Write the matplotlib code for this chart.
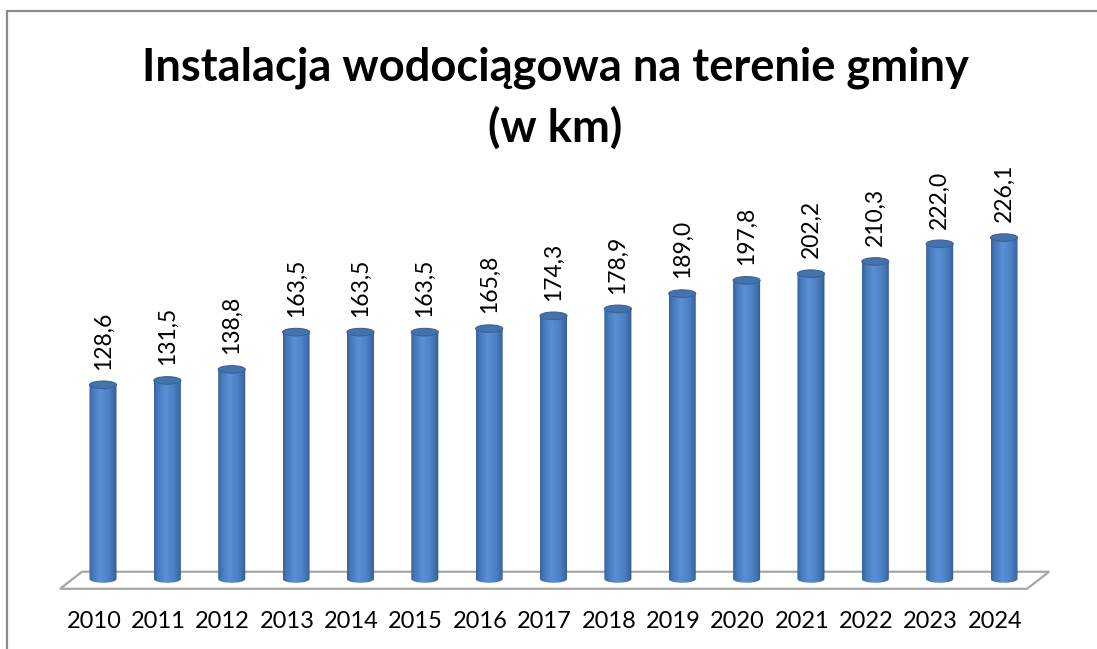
import numpy as np
import matplotlib
matplotlib.use("Agg")
import matplotlib.pyplot as plt
from matplotlib.patches import Polygon, Ellipse, PathPatch, Rectangle
from matplotlib.path import Path
from matplotlib.colors import LinearSegmentedColormap
from matplotlib.transforms import ScaledTranslation

years = ['2010', '2011', '2012', '2013', '2014', '2015', '2016', '2017',
         '2018', '2019', '2020', '2021', '2022', '2023', '2024']
values = [128.6, 131.5, 138.8, 163.5, 163.5, 163.5, 165.8, 174.3,
          178.9, 189.0, 197.8, 202.2, 210.3, 222.0, 226.1]
value_labels = [f"{v:.1f}".replace('.', ',') for v in values]
title_line1 = 'Instalacja wodociągowa na terenie gminy'
title_line2 = '(w km)'

plt.rcParams['font.family'] = ['Lato', 'DejaVu Sans']

W, H = 1097, 649
fig = plt.figure(figsize=(W / 100, H / 100), dpi=100)
fig.patch.set_facecolor('white')

ax = fig.add_axes([0.03522, 0.0846, 0.9387, 0.6049])
ax.set_facecolor('none')
for s in ax.spines.values():
    s.set_visible(False)

n = len(values)
xs = np.arange(n)
bw = 0.42      # cylinder width in category units
eh = 5.0       # ellipse height in value units

# floor (3D base)
floor = Polygon([(-0.668, -6.5), (14.357, -6.5), (14.70, 4.8), (-0.326, 4.8)],
                closed=True, facecolor='white', edgecolor='#a6a6a6', lw=1.6, zorder=1)
ax.add_patch(floor)

cmap = LinearSegmentedColormap.from_list(
    'cyl', [(0.0, '#35629a'), (0.12, '#4577b8'), (0.4, '#5a8fd6'),
            (0.7, '#4e82c6'), (0.9, '#3e6ba7'), (1.0, '#30578a')])
grad = np.linspace(0, 1, 256).reshape(1, -1)

t = np.linspace(np.pi, 2 * np.pi, 60)
for x, v, lab in zip(xs, values, value_labels):
    left, right = x - bw / 2, x + bw / 2
    arc_x = x + (bw / 2) * np.cos(t)
    arc_y = (eh / 2) * np.sin(t)
    verts = [(left, v)] + list(zip(arc_x, arc_y)) + [(right, v), (left, v)]
    codes = [Path.MOVETO] + [Path.LINETO] * (len(verts) - 2) + [Path.CLOSEPOLY]
    body = PathPatch(Path(verts, codes), facecolor='none', edgecolor='none', zorder=2)
    ax.add_patch(body)
    im = ax.imshow(grad, extent=(left, right, -eh / 2, v), aspect='auto',
                   cmap=cmap, zorder=2, interpolation='bicubic')
    im.set_clip_path(body)
    top = Ellipse((x, v), bw, eh, facecolor='#4472ab', edgecolor='#3a6297',
                  lw=0.8, zorder=3)
    ax.add_patch(top)
    ax.annotate(lab, (x, v), xytext=(0, 11), textcoords='offset points',
                rotation=90, ha='center', va='bottom', fontsize=16.5, color='black')

ax.set_xlim(-1, 15)
ax.set_ylim(-10, 250)
ax.set_xticks(xs, years)
ax.set_yticks([])
ax.tick_params(axis='x', length=0, pad=12, labelsize=17)
shift = ScaledTranslation(-9 / 100, 0, fig.dpi_scale_trans)
for tl in ax.get_xticklabels():
    tl.set_transform(tl.get_transform() + shift)

fig.text(0.506, 0.896, title_line1, ha='center', va='center',
         fontsize=32.6, fontweight='bold')
fig.text(0.506, 0.803, title_line2, ha='center', va='center',
         fontsize=32.6, fontweight='bold')

border = Rectangle((6.5 / W, -0.1), 1.2, (H - 11.5) / H + 0.1, transform=fig.transFigure,
                   fill=False, edgecolor='#8c8c8c', lw=1.6)
fig.patches.append(border)

fig.savefig('out.png', dpi=100)
